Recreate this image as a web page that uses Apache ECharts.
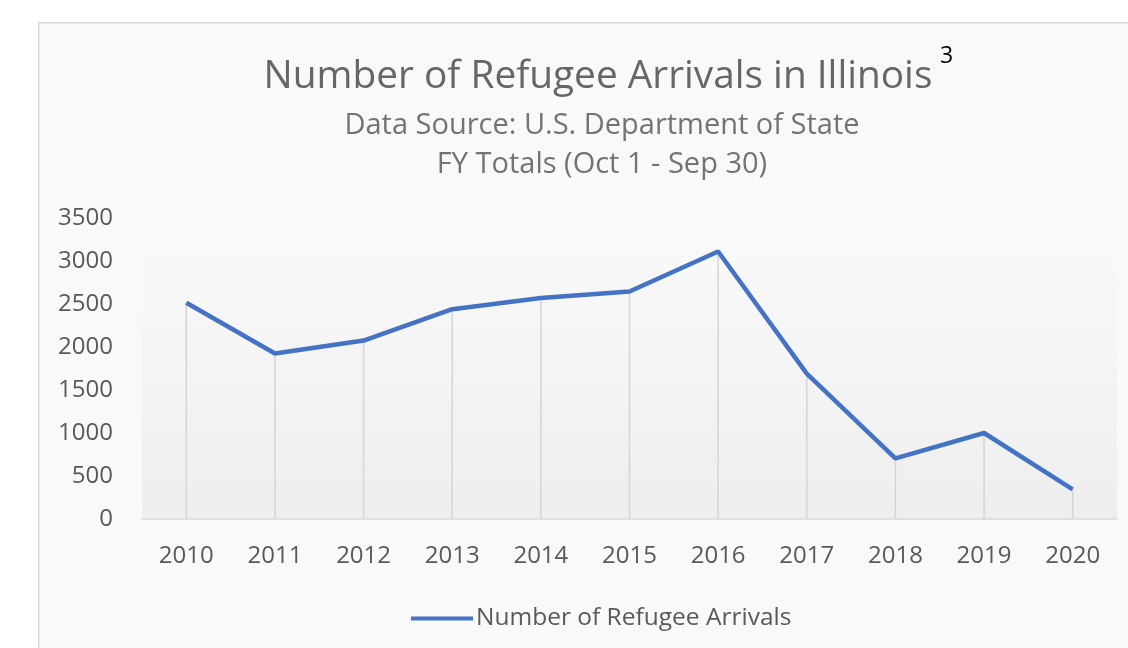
<!DOCTYPE html>
<html>
<head>
<meta charset="utf-8">
<script src="https://cdn.jsdelivr.net/npm/echarts@6/dist/echarts.min.js"></script>
<style>
html,body{margin:0;padding:0;background:#fff;}
#c{width:1128px;height:648px;}
</style>
</head>
<body>
<div id="c"></div>
<script>
const years = ['2010','2011','2012','2013','2014','2015','2016','2017','2018','2019','2020'];
const arrivals = [2515, 1925, 2075, 2440, 2570, 2645, 3110, 1690, 705, 1000, 345];
const yTicks = {min: 0, max: 3500, interval: 500};
const seriesName = 'Number of Refugee Arrivals';

const chart = echarts.init(document.getElementById('c'));
const font = '"Open Sans", "Noto Sans", sans-serif';
chart.setOption({
  backgroundColor: '#ffffff',
  animation: false,
  graphic: [
    {type: 'rect', left: 38, top: 22, z: -10,
     shape: {width: 1200, height: 700},
     style: {fill: '#f9f9f9', stroke: '#d9d9d9', lineWidth: 1.5}},
    {type: 'text', left: 940, top: 45, z: 10,
     style: {text: '3', fill: '#000', font: '23px "Open Sans", sans-serif'}}
  ],
  title: [
    {text: 'Number of Refugee Arrivals in Illinois', left: 593, textAlign: 'center', top: 52,
     textStyle: {fontFamily: font, fontSize: 38.8, fontWeight: 'normal', color: '#666666'}},
    {text: 'Data Source: U.S. Department of State\nFY Totals (Oct 1 - Sep 30)', left: 597, textAlign: 'center', top: 101,
     textStyle: {fontFamily: font, fontSize: 29, fontWeight: 'normal', color: '#737373', lineHeight: 39}}
  ],
  legend: {
    data: [seriesName], left: 406, top: 601,
    icon: 'rect', itemWidth: 62, itemHeight: 4, itemGap: 10,
    textStyle: {fontFamily: font, fontSize: 24.5, color: '#595959', padding: [0,0,0,-2]}
  },
  grid: {left: 142, right: 11, top: 218, bottom: 129, containLabel: false, show: true,
    borderWidth: 0,
    backgroundColor: {type: 'linear', x: 0, y: 0, x2: 0, y2: 1,
      colorStops: [{offset: 0, color: '#fafafa'}, {offset: 1, color: '#eeeeee'}]}},
  xAxis: {
    type: 'category', data: years, boundaryGap: true,
    axisLine: {lineStyle: {color: '#d9d9d9', width: 1.5}},
    axisTick: {show: false},
    axisLabel: {fontFamily: font, fontSize: 24, color: '#595959', margin: 25},
    splitLine: {show: false}
  },
  yAxis: {
    type: 'value', min: yTicks.min, max: yTicks.max, interval: yTicks.interval,
    axisLine: {show: false}, axisTick: {show: false}, splitLine: {show: false},
    axisLabel: {fontFamily: font, fontSize: 24, color: '#595959', margin: 29,
      formatter: function (v) { return String(v); }}
  },
  series: [
    {name: 'drop', type: 'bar', data: arrivals, barWidth: 1.5, silent: true, z: 1,
     itemStyle: {color: '#d5d5d5'}},
    {name: seriesName, type: 'line', data: arrivals, symbol: 'none', z: 3,
     lineStyle: {color: '#4472c4', width: 4.5}, itemStyle: {color: '#4472c4'}}
  ]
});
</script>
</body>
</html>
